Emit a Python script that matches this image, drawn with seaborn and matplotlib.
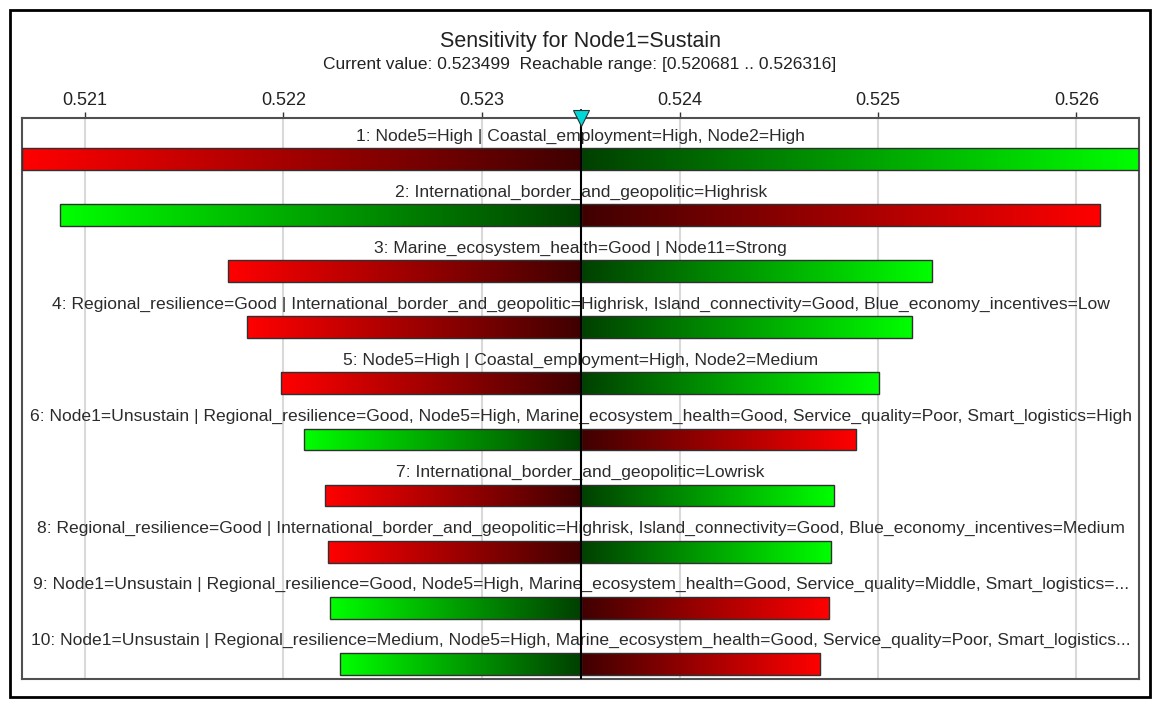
import numpy as np
import pandas as pd
import matplotlib
matplotlib.use('Agg')
import matplotlib.pyplot as plt
from matplotlib.patches import Rectangle
import seaborn as sns

# sensitivity data
current = 0.523499
range_lo, range_hi = 0.520681, 0.526316

labels = [
    '1: Node5=High | Coastal_employment=High, Node2=High',
    '2: International_border_and_geopolitic=Highrisk',
    '3: Marine_ecosystem_health=Good | Node11=Strong',
    '4: Regional_resilience=Good | International_border_and_geopolitic=Highrisk, Island_connectivity=Good, Blue_economy_incentives=Low',
    '5: Node5=High | Coastal_employment=High, Node2=Medium',
    '6: Node1=Unsustain | Regional_resilience=Good, Node5=High, Marine_ecosystem_health=Good, Service_quality=Poor, Smart_logistics=High',
    '7: International_border_and_geopolitic=Lowrisk',
    '8: Regional_resilience=Good | International_border_and_geopolitic=Highrisk, Island_connectivity=Good, Blue_economy_incentives=Medium',
    '9: Node1=Unsustain | Regional_resilience=Good, Node5=High, Marine_ecosystem_health=Good, Service_quality=Middle, Smart_logistics=...',
    '10: Node1=Unsustain | Regional_resilience=Medium, Node5=High, Marine_ecosystem_health=Good, Service_quality=Poor, Smart_logistics...',
]
low_vals = [0.520681, 0.520873, 0.521720, 0.521816, 0.521988,
            0.522104, 0.522210, 0.522225, 0.522235, 0.522285]
high_vals = [0.526316, 0.526120, 0.525272, 0.525171, 0.525005,
             0.524889, 0.524778, 0.524763, 0.524753, 0.524707]
# colour of the low (left) end: 'r' red, 'g' green; the high end gets the other
low_color = ['r', 'g', 'r', 'r', 'r', 'g', 'r', 'r', 'g', 'g']
tick_vals = [0.521, 0.522, 0.523, 0.524, 0.525, 0.526]

df = pd.DataFrame({
    'rank': [str(i + 1) for i in range(len(labels))],
    'label': labels,
    'low_dev': np.array(low_vals) - current,
    'high_dev': np.array(high_vals) - current,
})

sns.set_style('white')
plt.rcParams['font.family'] = ['Liberation Sans', 'DejaVu Sans']

fig = plt.figure(figsize=(11.6, 7.08), dpi=100)
ax = fig.add_axes([22 / 1160, 1 - 679 / 708, (1139 - 22) / 1160, (679 - 118) / 708])

order = list(df['rank'])
sns.barplot(data=df, x='low_dev', y='rank', order=order, orient='h', width=0.39,
            color='white', ax=ax)
n_low = len(ax.patches)
sns.barplot(data=df, x='high_dev', y='rank', order=order, orient='h', width=0.39,
            color='white', ax=ax)
patches = list(ax.patches)

bright = {'r': np.array([1.0, 0.0, 0.0]), 'g': np.array([0.0, 1.0, 0.0])}
dark = {'r': np.array([0.25, 0.0, 0.0]), 'g': np.array([0.0, 0.25, 0.0])}


def gradient(side, outer_left):
    t = np.linspace(0, 1, 256)
    if not outer_left:
        t = t[::-1]
    # t=0 -> bright end, t=1 -> dark end (at current value)
    cols = bright[side][None, :] * (1 - t[:, None]) + dark[side][None, :] * t[:, None]
    return cols[None, :, :]


for i, p in enumerate(patches):
    k = i % n_low
    is_low = i < n_low
    side = low_color[k] if is_low else ('g' if low_color[k] == 'r' else 'r')
    x0, y0 = p.get_x(), p.get_y()
    w, h = p.get_width(), p.get_height()
    xa, xb = min(x0, x0 + w), max(x0, x0 + w)
    img = ax.imshow(gradient(side, outer_left=is_low), extent=(xa, xb, y0 + h, y0),
                    aspect='auto', interpolation='bilinear', zorder=2)
    img.set_clip_path(p)
    p.set_facecolor('none')
    p.set_edgecolor('#303030')
    p.set_linewidth(1.0)
    p.set_zorder(3)

ax.set_xlim(range_lo - current, range_hi - current)
ax.set_ylim(len(labels) - 1 + 0.27, -0.73)

# bar captions above each bar
for i, lab in enumerate(labels):
    ax.text(0, i - 0.41, lab, ha='center', va='center', fontsize=12.6,
            color='#2b2b2b', zorder=5)

# axis: ticks on top, labelled with absolute values
ax.xaxis.tick_top()
ax.set_xticks([v - current for v in tick_vals])
ax.set_xticklabels([f'{v:.3f}' for v in tick_vals], fontsize=13, color='#222222')
ax.tick_params(axis='x', direction='out', length=4.5, width=1, color='#333333', pad=2)
ax.set_yticks([])
ax.set_xlabel('')
ax.set_ylabel('')
ax.grid(True, axis='x', color='#d9d9d9', linewidth=1.5, zorder=0)
ax.set_axisbelow(True)
for s in ax.spines.values():
    s.set_visible(True)
    s.set_color('#505050')
    s.set_linewidth(1.5)

# current value marker
ax.axvline(0, color='black', linewidth=1.5, zorder=6)
ax.plot([0], [1.0], transform=ax.get_xaxis_transform(), marker='v', markersize=11,
        color='#00d8d8', markeredgecolor='#303030', markeredgewidth=0.8,
        clip_on=False, zorder=7)
ax.plot([0, 0], [1.0, 1.015], transform=ax.get_xaxis_transform(), color='black',
        linewidth=1.5, clip_on=False, zorder=6)

fig.text(0.5, 1 - 41 / 708, 'Sensitivity for Node1=Sustain', ha='center', va='center',
         fontsize=15.5, color='#222222')
fig.text(0.5, 1 - 64 / 708,
         'Current value: 0.523499  Reachable range: [0.520681 .. 0.526316]',
         ha='center', va='center', fontsize=12.5, color='#222222')

# outer frame
fig.patches.append(Rectangle((10 / 1160, 1 - 697 / 708), 1140 / 1160, 687 / 708,
                             transform=fig.transFigure, fill=False,
                             edgecolor='black', linewidth=2))

fig.savefig('out.png', dpi=100)
